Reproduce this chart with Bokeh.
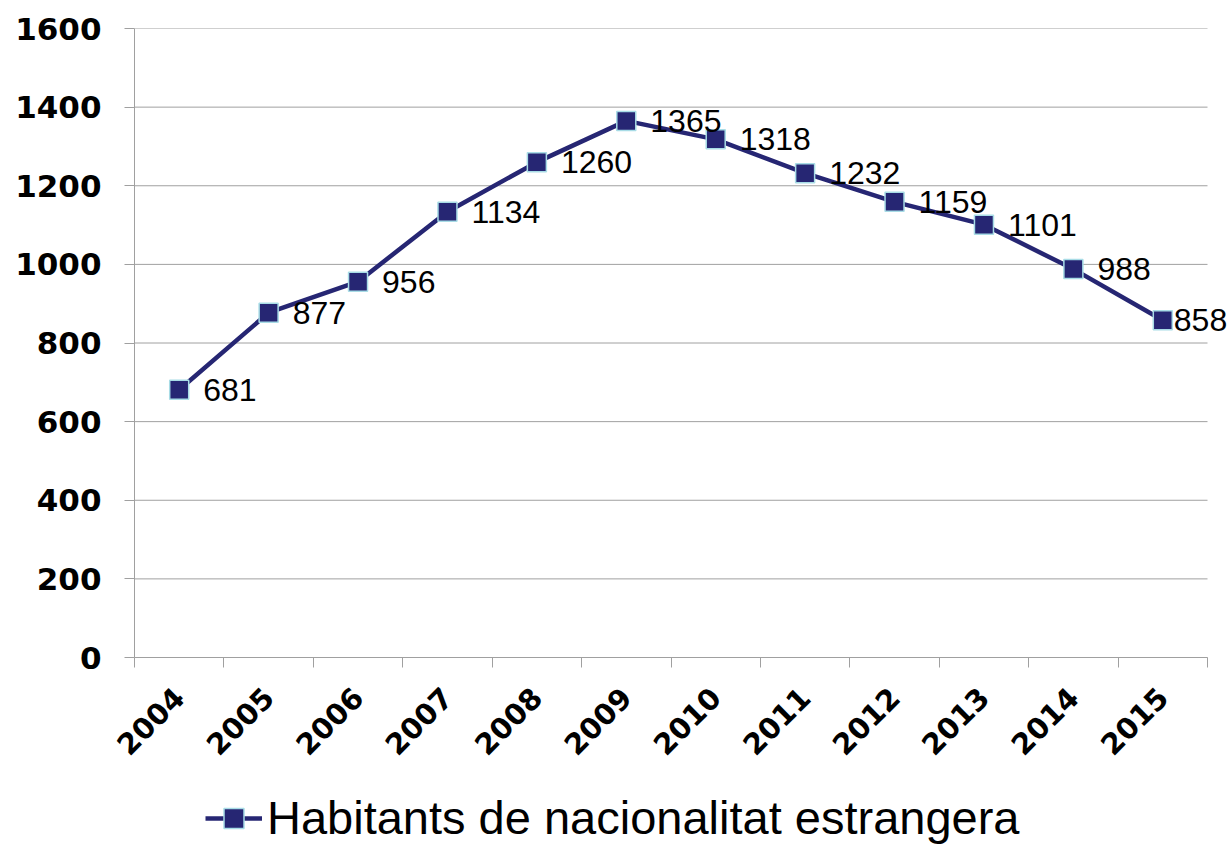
import math
from bokeh.plotting import figure
from bokeh.layouts import column
from bokeh.models import (ColumnDataSource, Range1d, FixedTicker, LabelSet,
                          Legend, LegendItem)
from bokeh.core.properties import value
from bokeh.embed import file_html
from bokeh.resources import INLINE

years = ["2004", "2005", "2006", "2007", "2008", "2009",
         "2010", "2011", "2012", "2013", "2014", "2015"]
habitants = [681, 877, 956, 1134, 1260, 1365, 1318, 1232, 1159, 1101, 988, 858]
series_name = "Habitants de nacionalitat estrangera"
y_ticks = [0, 200, 400, 600, 800, 1000, 1200, 1400, 1600]

n = len(years)
xs = [i + 0.5 for i in range(n)]
offsets = [24] * (n - 1) + [11]
src = ColumnDataSource(dict(x=xs, y=habitants, lab=[str(v) for v in habitants], dx=offsets))

NAVY = "#262673"
EDGE = "#a8dce6"
GRID = "#a0a0a0"

W, H = 1229, 845
LEFT, TOP, BOTTOM = 134, 28, 131
FRAME_W, FRAME_H = W - LEFT, 629
AXIS_PX = 1073  # pixel width of the 12 categories
x_end = n * FRAME_W / AXIS_PX

p = figure(frame_width=FRAME_W, frame_height=FRAME_H, output_backend="svg",
           toolbar_location=None,
           x_range=Range1d(0, x_end), y_range=Range1d(0, 1600),
           min_border_left=LEFT, min_border_right=0, min_border_top=TOP,
           min_border_bottom=BOTTOM)
p.outline_line_color = None
p.background_fill_color = "white"
p.border_fill_color = "white"

# grid lines limited to the category span
p.xgrid.grid_line_color = None
p.ygrid.grid_line_color = None
p.segment(x0=[0] * len(y_ticks), x1=[n] * len(y_ticks), y0=y_ticks, y1=y_ticks,
          line_color=GRID, line_width=1)

# y axis
p.yaxis.ticker = FixedTicker(ticks=y_ticks)
p.yaxis.axis_line_color = GRID
p.yaxis.major_tick_line_color = GRID
p.yaxis.major_tick_out = 10
p.yaxis.major_tick_in = 0
p.yaxis.minor_tick_line_color = None
p.yaxis.major_label_text_font = "DejaVu Sans"
p.yaxis.major_label_text_font_style = "bold"
p.yaxis.major_label_text_font_size = "31px"
p.yaxis.major_label_text_color = "black"
p.yaxis.major_label_standoff = 23

# x axis
p.xaxis.bounds = (0, n)
p.xaxis.ticker = FixedTicker(ticks=xs, minor_ticks=list(range(n + 1)))
p.xaxis.major_label_overrides = {x: y for x, y in zip(xs, years)}
p.xaxis.axis_line_color = GRID
p.xaxis.major_tick_line_color = None
p.xaxis.minor_tick_line_color = GRID
p.xaxis.minor_tick_out = 10
p.xaxis.minor_tick_in = 0
p.xaxis.major_label_orientation = math.pi / 4
p.xaxis.major_label_text_font = "DejaVu Sans"
p.xaxis.major_label_text_font_style = "bold"
p.xaxis.major_label_text_font_size = "29px"
p.xaxis.major_label_text_color = "black"
p.xaxis.major_label_standoff = 25

p.line("x", "y", source=src, line_color=NAVY, line_width=4.5)
p.scatter("x", "y", source=src, marker="square", size=19,
          fill_color=NAVY, line_color=EDGE, line_width=1.5)

labels = LabelSet(x="x", y="y", text="lab", source=src, x_offset="dx", y_offset=0,
                  text_align="left", text_baseline="middle",
                  text_font=value("Liberation Sans"), text_font_size=value("32px"),
                  text_color="black")
p.add_layout(labels)

# legend strip (separate figure so that the legend is not clipped by the frame);
# its frame is aligned with the main frame by the column layout
LEG_H = H - (TOP + FRAME_H + BOTTOM)
pl = figure(width=W, height=LEG_H, output_backend="svg", toolbar_location=None,
            x_axis_type=None, y_axis_type=None,
            x_range=Range1d(-100, -99), y_range=Range1d(-100, -99),
            min_border_left=0, min_border_right=0, min_border_top=0, min_border_bottom=0)
pl.outline_line_color = None
pl.xgrid.grid_line_color = None
pl.ygrid.grid_line_color = None
leg_line = pl.line("x", "y", source=src, line_color=NAVY, line_width=4.5)
leg_pts = pl.scatter("x", "y", source=src, marker="square", size=19,
                     fill_color=NAVY, line_color=EDGE, line_width=1.5)

legend = Legend(items=[LegendItem(label=series_name, renderers=[leg_line, leg_pts])],
                location=(71, 0), orientation="horizontal",
                padding=0, margin=0, spacing=0,
                glyph_width=57, glyph_height=50, label_standoff=5,
                label_text_font="Liberation Sans", label_text_font_size="47px",
                label_text_color="black", border_line_color=None,
                background_fill_alpha=0)
pl.add_layout(legend, "center")

open("out.html", "w").write(file_html(column(p, pl, spacing=0), INLINE))
